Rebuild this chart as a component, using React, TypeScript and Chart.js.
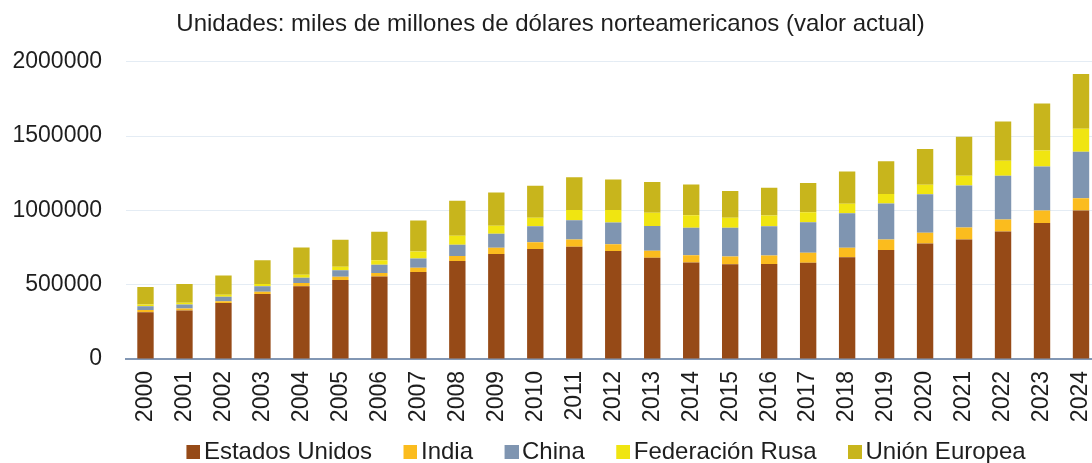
import React, { useEffect, useRef } from "react";
import { Chart, registerables } from "chart.js";

Chart.register(...registerables);

const years = [
  "2000", "2001", "2002", "2003", "2004", "2005", "2006", "2007", "2008", "2009",
  "2010", "2011", "2012", "2013", "2014", "2015", "2016", "2017", "2018", "2019",
  "2020", "2021", "2022", "2023", "2024",
];

const estadosUnidos = [
  314000, 327000, 377000, 437000, 489000, 531000, 556000, 585000, 659000, 706000,
  740000, 756000, 726000, 682000, 650000, 637000, 639000, 648000, 684000, 733000,
  778000, 805000, 858000, 916000, 999000,
];
const india = [
  16000, 13000, 11000, 16000, 22000, 22000, 22000, 29000, 34000, 43000,
  45000, 49000, 47000, 47000, 49000, 52000, 58000, 67000, 65000, 72000,
  72000, 80000, 80000, 83000, 83000,
];
const china = [
  25000, 27000, 31000, 36000, 36000, 45000, 56000, 63000, 76000, 94000,
  108000, 128000, 146000, 166000, 184000, 195000, 197000, 206000, 232000, 241000,
  259000, 282000, 295000, 297000, 313000,
];
const federacionRusa = [
  11000, 11000, 13000, 16000, 20000, 22000, 31000, 47000, 61000, 54000,
  58000, 70000, 83000, 90000, 85000, 67000, 72000, 67000, 63000, 65000,
  63000, 67000, 101000, 107000, 154000,
];
const unionEuropea = [
  119000, 126000, 130000, 159000, 184000, 182000, 191000, 208000, 235000, 224000,
  215000, 220000, 206000, 206000, 206000, 179000, 186000, 197000, 217000, 219000,
  241000, 262000, 264000, 317000, 369000,
];

const yTicks = [0, 500000, 1000000, 1500000, 2000000];

const seriesNames = ["Estados Unidos", "India", "China", "Federación Rusa", "Unión Europea"];
const seriesColors = ["#964a17", "#fbbc1e", "#7f95b1", "#f0e511", "#c8b51c"];

const FONT = "'Liberation Sans', Arial, sans-serif";
const TEXT = "#1e1e1e";
const LEGEND_SHIFT = -15;

function makeLegendSwatch(color: string): HTMLCanvasElement {
  // transparent area on the left, 14px square on the right
  const c = document.createElement("canvas");
  c.width = 38;
  c.height = 14;
  const ctx = c.getContext("2d");
  if (ctx) {
    ctx.fillStyle = color;
    ctx.fillRect(24, 0, 14, 14);
  }
  return c;
}

const legendOffsetPlugin = {
  id: "legendOffset",
  afterLayout(chart: any) {
    const lg = chart.legend;
    if (lg) {
      lg.left += LEGEND_SHIFT;
      lg.right += LEGEND_SHIFT;
    }
  },
};

export default function App() {
  const canvasRef = useRef<HTMLCanvasElement | null>(null);

  useEffect(() => {
    const canvas = canvasRef.current;
    if (!canvas) return;
    const seriesData = [estadosUnidos, india, china, federacionRusa, unionEuropea];
    const swatches = seriesColors.map(makeLegendSwatch);
    const defaultGenerate = (Chart.defaults as any).plugins.legend.labels.generateLabels;
    const chart = new Chart(canvas, {
      type: "bar",
      data: {
        labels: years,
        datasets: seriesNames.map((name, i) => ({
          label: name,
          data: seriesData[i],
          backgroundColor: seriesColors[i],
          borderWidth: 0,
          barPercentage: 0.42,
          categoryPercentage: 1,
        })),
      },
      plugins: [legendOffsetPlugin],
      options: {
        responsive: false,
        animation: false,
        devicePixelRatio: 1,
        layout: { padding: { left: 0, right: 20, top: 0, bottom: 0 } },
        plugins: {
          title: {
            display: true,
            text: "Unidades: miles de millones de dólares norteamericanos (valor actual)",
            color: TEXT,
            font: { family: FONT, size: 24, weight: "normal" },
            padding: { top: 10, bottom: 23 },
          },
          legend: {
            position: "bottom",
            fullSize: false,
            labels: {
              color: TEXT,
              font: { family: FONT, size: 24 },
              usePointStyle: true,
              pointStyleWidth: 21,
              boxHeight: 14,
              padding: 16,
              generateLabels: (ch: any) =>
                defaultGenerate(ch).map((item: any, i: number) => ({
                  ...item,
                  pointStyle: swatches[i],
                })),
            },
          },
          tooltip: { enabled: false },
        },
        scales: {
          x: {
            stacked: true,
            grid: { display: false, drawTicks: false },
            border: { display: true, color: "#8297b4", width: 2 },
            afterFit: (axis: any) => {
              axis.height = 65;
            },
            ticks: {
              color: TEXT,
              font: { family: FONT, size: 23 },
              autoSkip: false,
              minRotation: 90,
              maxRotation: 90,
              padding: 12,
            },
          },
          y: {
            stacked: true,
            min: 0,
            max: 2000000,
            grid: { color: "#e4ecf4", lineWidth: 1, drawTicks: false },
            border: { display: false },
            afterFit: (axis: any) => {
              axis.width = 126;
            },
            afterBuildTicks: (axis: any) => {
              axis.ticks = yTicks.map((v) => ({ value: v }));
            },
            ticks: {
              color: TEXT,
              font: { family: FONT, size: 23 },
              padding: 24,
              callback: (v: any) => String(v),
            },
          },
        },
      },
    });
    return () => chart.destroy();
  }, []);

  return (
    <div
      style={{
        position: "fixed",
        left: 0,
        top: 0,
        width: 1092,
        height: 463,
        overflow: "hidden",
        background: "#ffffff",
      }}
    >
      <canvas ref={canvasRef} width={1121} height={474} style={{ width: 1121, height: 474, display: "block" }} />
    </div>
  );
}
